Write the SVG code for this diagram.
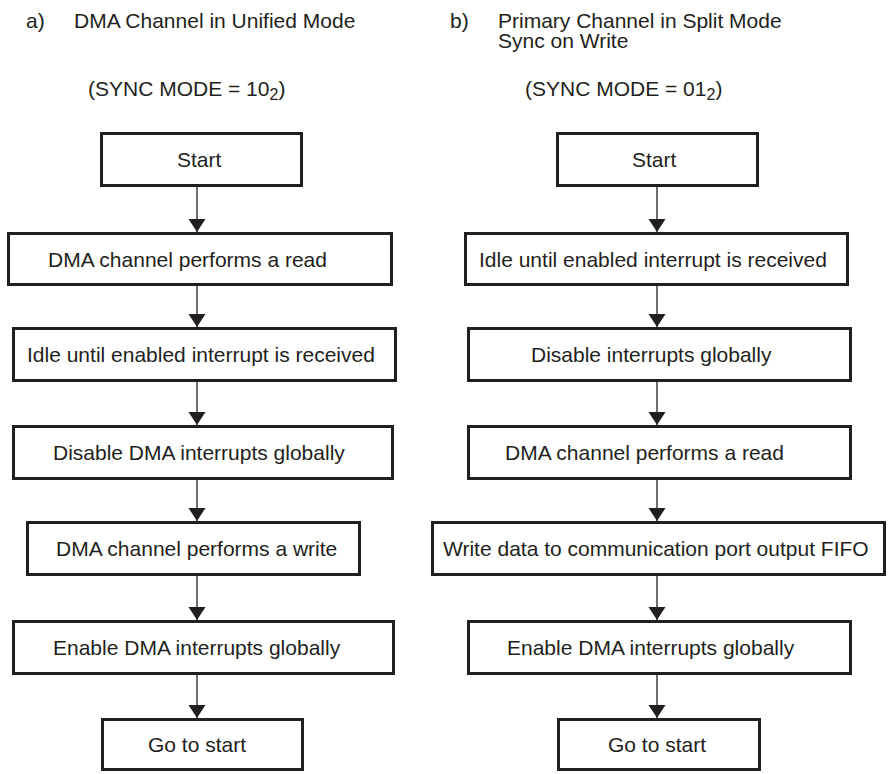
<svg xmlns="http://www.w3.org/2000/svg" width="891" height="774" viewBox="0 0 891 774">
<style>
text{font-family:"Liberation Sans",Arial,sans-serif;font-size:21px;fill:#231f20}
.box{fill:#fff;stroke:#231f20;stroke-width:3}
.con{stroke:#231f20;stroke-width:1.3;fill:none}
</style>
<defs>
<marker id="ah" markerUnits="userSpaceOnUse" markerWidth="15" markerHeight="18" refX="13" refY="8.5" orient="auto">
<path d="M0,0 L13,8.5 L0,17 Z" fill="#231f20"/>
</marker>
</defs>
<rect width="891" height="774" fill="#fff"/>
<g id="headers">
<text x="26" y="28">a)</text>
<text x="74" y="28">DMA Channel in Unified Mode</text>
<text x="88" y="96">(SYNC MODE = 10<tspan font-size="16" dy="4">2</tspan><tspan dy="-4">)</tspan></text>
<text x="450" y="28">b)</text>
<text x="498" y="28">Primary Channel in Split Mode</text>
<text x="498" y="48">Sync on Write</text>
<text x="525" y="96">(SYNC MODE = 01<tspan font-size="16" dy="4">2</tspan><tspan dy="-4">)</tspan></text>
</g>
<g id="connectors">
<line class="con" x1="197" y1="187" x2="197" y2="232" marker-end="url(#ah)"/>
<line class="con" x1="197" y1="286" x2="197" y2="327" marker-end="url(#ah)"/>
<line class="con" x1="197" y1="382" x2="197" y2="425" marker-end="url(#ah)"/>
<line class="con" x1="197" y1="480" x2="197" y2="521" marker-end="url(#ah)"/>
<line class="con" x1="197" y1="576" x2="197" y2="620" marker-end="url(#ah)"/>
<line class="con" x1="197" y1="675" x2="197" y2="718" marker-end="url(#ah)"/>
<line class="con" x1="657" y1="187" x2="657" y2="232" marker-end="url(#ah)"/>
<line class="con" x1="657" y1="286" x2="657" y2="327" marker-end="url(#ah)"/>
<line class="con" x1="657" y1="382" x2="657" y2="425" marker-end="url(#ah)"/>
<line class="con" x1="657" y1="480" x2="657" y2="521" marker-end="url(#ah)"/>
<line class="con" x1="657" y1="576" x2="657" y2="620" marker-end="url(#ah)"/>
<line class="con" x1="657" y1="675" x2="657" y2="718" marker-end="url(#ah)"/>
</g>
<g id="a-start"><rect class="box" x="101.5" y="133.5" width="200" height="52"/><text x="177" y="167">Start</text></g>
<g id="a-read"><rect class="box" x="8.5" y="233.5" width="383" height="51"/><text x="48" y="266.5">DMA channel performs a read</text></g>
<g id="a-idle"><rect class="box" x="13.5" y="328.5" width="382" height="52"/><text x="27" y="362">Idle until enabled interrupt is received</text></g>
<g id="a-disable"><rect class="box" x="13.5" y="426.5" width="379" height="52"/><text x="53" y="460">Disable DMA interrupts globally</text></g>
<g id="a-write"><rect class="box" x="27.5" y="522.5" width="332" height="52"/><text x="56" y="556">DMA channel performs a write</text></g>
<g id="a-enable"><rect class="box" x="13.5" y="621.5" width="380" height="52"/><text x="53" y="655">Enable DMA interrupts globally</text></g>
<g id="a-goto"><rect class="box" x="102.5" y="719.5" width="200" height="50"/><text x="148" y="752">Go to start</text></g>
<g id="b-start"><rect class="box" x="557.5" y="133.5" width="200" height="52"/><text x="632" y="167">Start</text></g>
<g id="b-idle"><rect class="box" x="465.5" y="233.5" width="382" height="51"/><text x="479" y="266.5">Idle until enabled interrupt is received</text></g>
<g id="b-disable"><rect class="box" x="468.5" y="328.5" width="382" height="52"/><text x="531" y="362">Disable interrupts globally</text></g>
<g id="b-read"><rect class="box" x="468.5" y="426.5" width="382" height="52"/><text x="505" y="460">DMA channel performs a read</text></g>
<g id="b-write"><rect class="box" x="432.5" y="522.5" width="452" height="52"/><text x="443" y="556">Write data to communication port output FIFO</text></g>
<g id="b-enable"><rect class="box" x="468.5" y="621.5" width="382" height="52"/><text x="507" y="655">Enable DMA interrupts globally</text></g>
<g id="b-goto"><rect class="box" x="558.5" y="719.5" width="201" height="50"/><text x="608" y="752">Go to start</text></g>
</svg>
